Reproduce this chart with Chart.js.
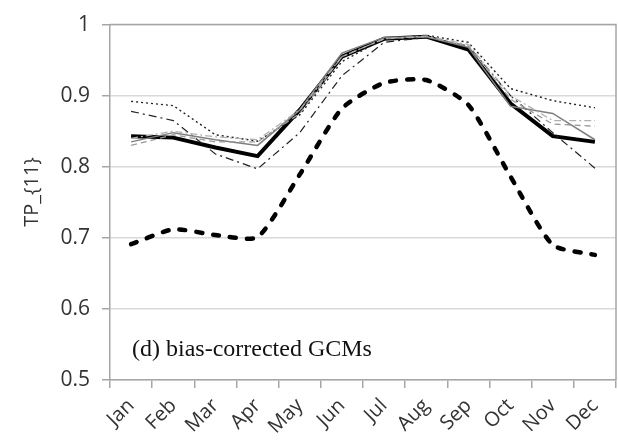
<!DOCTYPE html>
<html>
<head>
<meta charset="utf-8">
<script src="https://cdn.jsdelivr.net/npm/chart.js@4/dist/chart.umd.min.js"></script>
<style>
  html, body { margin: 0; padding: 0; background: #fff; }
  canvas { display: block; }
</style>
</head>
<body>
<canvas id="tp" width="618" height="446"></canvas>
<script>
// Categories and ticks
const months = ['Jan','Feb','Mar','Apr','May','Jun','Jul','Aug','Sep','Oct','Nov','Dec'];
const yTicks = [0.5, 0.6, 0.7, 0.8, 0.9, 1];

// Series (monthly TP_{11})
const boldSolid   = [0.843, 0.841, 0.827, 0.815, 0.880, 0.955, 0.980, 0.983, 0.965, 0.889, 0.843, 0.835];
const boldDashed  = [0.691, 0.712, 0.704, 0.701, 0.789, 0.882, 0.918, 0.922, 0.887, 0.786, 0.690, 0.676];
const thinDotted  = [0.892, 0.886, 0.845, 0.836, 0.873, 0.948, 0.980, 0.985, 0.975, 0.910, 0.893, 0.883];
const thinDashDot = [0.878, 0.865, 0.818, 0.797, 0.848, 0.928, 0.975, 0.982, 0.970, 0.900, 0.848, 0.798];
const greySolid   = [0.835, 0.848, 0.838, 0.830, 0.880, 0.960, 0.982, 0.983, 0.968, 0.885, 0.875, 0.838];
const greyDashed  = [0.830, 0.845, 0.835, 0.835, 0.875, 0.955, 0.980, 0.983, 0.970, 0.895, 0.860, 0.857];
const greyDashDot = [0.840, 0.850, 0.842, 0.838, 0.880, 0.955, 0.980, 0.984, 0.972, 0.900, 0.865, 0.865];

const panelLabel = '(d) bias-corrected GCMs';
const yTitle = 'TP_{11}';

function line(data, color, width, dash, extra){
  return Object.assign({ data, borderColor: color, borderWidth: width, borderDash: dash,
    pointRadius: 0, fill: false, tension: 0, borderCapStyle: 'butt' }, extra || {});
}

// frame + texts drawn straight on the canvas
const decor = {
  id: 'decor',
  beforeDatasetsDraw(chart){
    const {ctx, chartArea: a} = chart;
    ctx.save();
    ctx.strokeStyle = '#a6a6a6'; ctx.lineWidth = 1.5;
    ctx.beginPath();
    ctx.moveTo(a.left, a.top); ctx.lineTo(a.right, a.top); ctx.lineTo(a.right, a.bottom);
    ctx.stroke();
    ctx.restore();
  },
  afterDraw(chart){
    const {ctx, chartArea: a} = chart;
    ctx.save();
    ctx.fillStyle = '#111';
    ctx.font = '24px "Liberation Serif", "DejaVu Serif", serif';
    ctx.textBaseline = 'alphabetic';
    ctx.fillText(panelLabel, a.left + 22, 356);
    ctx.translate(32, 192);
    ctx.rotate(-Math.PI / 2);
    ctx.textAlign = 'center'; ctx.textBaseline = 'middle';
    ctx.fillStyle = '#333';
    ctx.font = '20px "Open Sans", sans-serif';
    ctx.fillText(yTitle, 0, 0);
    ctx.restore();
  }
};

new Chart(document.getElementById('tp').getContext('2d'), {
  type: 'line',
  data: {
    labels: months,
    datasets: [
      line(greyDashDot, '#b0b0b0', 1.3, [7,3,2,3]),
      line(greyDashed, '#9a9a9a', 1.3, [6,4]),
      line(greySolid, '#7f7f7f', 1.5, []),
      line(thinDashDot, '#222', 1.2, [8,4,2,4]),
      line(thinDotted, '#222', 1.4, [2,3]),
      line(boldDashed, '#000', 4.5, [6,11], { borderCapStyle: 'round', tension: 0.2 }),
      line(boldSolid, '#000', 4, [])
    ]
  },
  options: {
    responsive: false,
    animation: false,
    layout: { padding: { top: 19, right: 2, left: 0, bottom: 0 } },
    plugins: { legend: { display: false }, tooltip: { enabled: false } },
    scales: {
      x: {
        offset: true,
        grid: { offset: true, drawOnChartArea: false, drawTicks: true, tickLength: 8, tickColor: '#a6a6a6', lineWidth: 1.5 },
        border: { color: '#a6a6a6', width: 1.5 },
        ticks: { color: '#333', font: { family: 'Open Sans', size: 20 }, minRotation: 45, maxRotation: 45, padding: 6 },
        afterFit(s){ s.height = 66; }
      },
      y: {
        min: 0.5, max: 1,
        afterBuildTicks(s){ s.ticks = yTicks.map(v => ({ value: v })); },
        grid: { color: '#d9d9d9', lineWidth: 1.5, tickLength: 8, tickColor: '#a6a6a6' },
        border: { color: '#a6a6a6', width: 1.5 },
        ticks: { color: '#333', font: { family: 'Open Sans', size: 21 }, padding: 12,
          callback: v => String(Math.round(v * 10) / 10) },
        afterFit(s){ s.width = 110; }
      }
    }
  },
  plugins: [decor]
});
</script>
</body>
</html>
